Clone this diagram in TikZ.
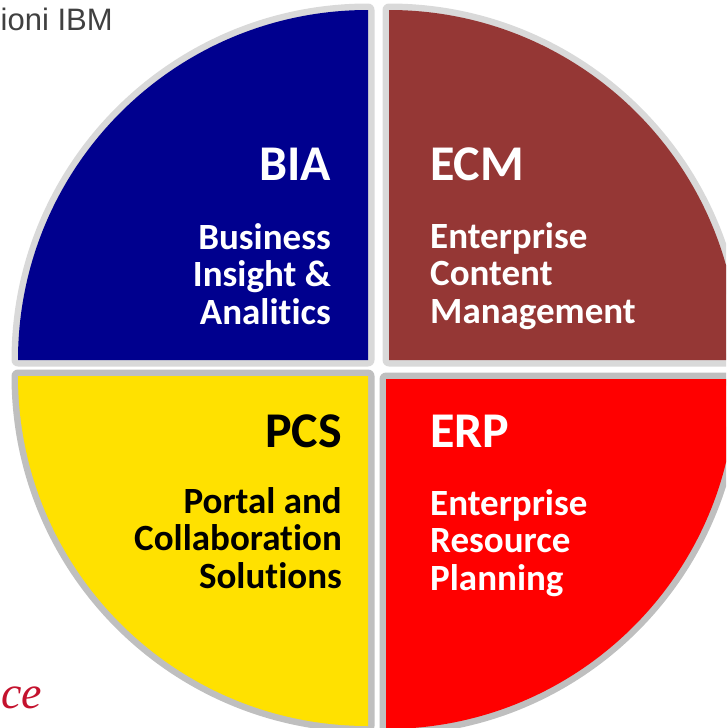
\documentclass[tikz,border=0pt]{standalone}
\usepackage{fontspec}
\setmainfont{Carlito}[Ligatures=NoCommon]
\newfontfamily\arialfont{Liberation Sans}
\newfontfamily\timesfont{Liberation Serif}
\definecolor{qblue}{HTML}{00008E}
\definecolor{qbrown}{HTML}{953735}
\definecolor{qred}{HTML}{FF0000}
\definecolor{qyellow}{HTML}{FFE100}
\definecolor{rimlight}{HTML}{D9D9D9}
\definecolor{rimdark}{HTML}{BFBFBF}
\definecolor{toptext}{HTML}{404040}
\definecolor{cetext}{HTML}{C4122E}
\begin{document}
\begin{tikzpicture}[x=1pt,y=1pt,
  rim/.style={draw=#1,fill=#1,line width=13pt,line join=round},
  head/.style={inner sep=0pt,text=#1,font=\fontsize{50}{60}\selectfont\bfseries},
  body/.style={inner sep=0pt,text=#1,font=\fontsize{37}{37.5}\selectfont\bfseries},
]
\useasboundingbox (0,0) rectangle (726,-728);
\clip (0,0) rectangle (726,-728);
% top-left BIA
\path[rim=rimlight] (368,-360) -- (18,-360) arc[start angle=180,end angle=90,radius=350] -- cycle;
\fill[qblue] (368,-360) -- (18,-360) arc[start angle=180,end angle=90,radius=350] -- cycle;
% top-right ECM
\path[rim=rimlight] (389,-360) -- (389,-10) arc[start angle=90,end angle=0,radius=350] -- cycle;
\fill[qbrown] (389,-360) -- (389,-10) arc[start angle=90,end angle=0,radius=350] -- cycle;
% bottom-left PCS
\path[rim=rimdark] (368,-376) -- (368,-726) arc[start angle=270,end angle=180,radius=350] -- cycle;
\fill[qyellow] (368,-376) -- (368,-726) arc[start angle=270,end angle=180,radius=350] -- cycle;
% bottom-right ERP
\path[rim=rimdark] (386,-379) -- (736,-379) arc[start angle=0,end angle=-90,radius=350] -- cycle;
\fill[qred] (386,-379) -- (736,-379) arc[start angle=0,end angle=-90,radius=350] -- cycle;

% multi-line nodes: base anchor is the last line's baseline
\node[head=white,anchor=base east] (bia) at (331,-180) {BIA};
\node[body=white,anchor=base east,align=right] (biab) at (331,-324) {Business\\Insight \&\\Analitics};
\node[head=white,anchor=base west] (ecm) at (430,-180) {ECM};
\node[body=white,anchor=base west,align=left] (ecmb) at (430,-323) {Enterprise\\Content\\Management};
\node[head=black,anchor=base east] (pcs) at (342,-447) {PCS};
\node[body=black,anchor=base east,align=right] (pcsb) at (342,-588) {Portal and\\Collaboration\\Solutions};
\node[head=white,anchor=base west] (erp) at (430,-447) {ERP};
\node[body=white,anchor=base west,align=left] (erpb) at (430,-590) {Enterprise\\Resource\\Planning};

\node[inner sep=0pt,anchor=base west,text=toptext,font=\arialfont\fontsize{31}{36}\selectfont] (ibm) at (0.5,-30) {ioni IBM};
\node[inner sep=0pt,anchor=base west,text=cetext,font=\timesfont\itshape\fontsize{46}{50}\selectfont] (ce) at (1,-708) {ce};
\end{tikzpicture}
\end{document}
